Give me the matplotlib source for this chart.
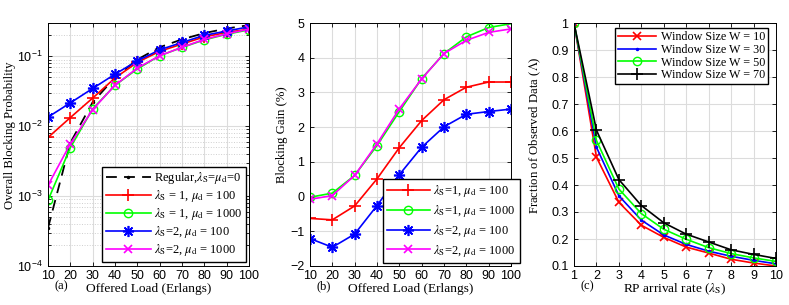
import numpy as np
import matplotlib
matplotlib.use('Agg')
import matplotlib.pyplot as plt
from matplotlib.ticker import NullFormatter, LogLocator

plt.rcParams['font.family'] = ['Liberation Sans', 'DejaVu Sans']
plt.rcParams['mathtext.fontset'] = 'stix'
plt.rcParams['xtick.direction'] = 'in'
plt.rcParams['ytick.direction'] = 'in'
plt.rcParams['xtick.top'] = True
plt.rcParams['ytick.right'] = True

SERIF = 'Liberation Serif'

# ---- data: panel (a) overall blocking probability
load = [10, 20, 30, 40, 50, 60, 70, 80, 90, 100]
pb_regular = [0.00035, 0.0058, 0.022, 0.050, 0.090, 0.135, 0.175, 0.215, 0.250, 0.280]
pb_l1_m100 = [0.0069, 0.0133, 0.0253, 0.049, 0.082, 0.118, 0.150, 0.190, 0.220, 0.245]
pb_l1_m1000 = [0.00087, 0.00495, 0.0177, 0.0385, 0.066, 0.102, 0.134, 0.172, 0.207, 0.240]
pb_l2_m100 = [0.0135, 0.0216, 0.0347, 0.0556, 0.086, 0.124, 0.158, 0.200, 0.230, 0.265]
pb_l2_m1000 = [0.00143, 0.0056, 0.0173, 0.0385, 0.068, 0.102, 0.135, 0.175, 0.210, 0.245]

# ---- data: panel (b) blocking gain (%)
gain_l1_m100 = [-0.63, -0.67, -0.27, 0.51, 1.41, 2.19, 2.79, 3.15, 3.30, 3.30]
gain_l1_m1000 = [-0.02, 0.10, 0.61, 1.47, 2.45, 3.40, 4.12, 4.60, 4.87, 4.98]
gain_l2_m100 = [-1.21, -1.46, -1.08, -0.26, 0.63, 1.42, 2.01, 2.37, 2.45, 2.52]
gain_l2_m1000 = [-0.08, 0.03, 0.61, 1.52, 2.53, 3.39, 4.12, 4.50, 4.73, 4.83]

# ---- data: panel (c) fraction of observed data
rate = [1, 2, 3, 4, 5, 6, 7, 8, 9, 10]
frac_w10 = [1.0, 0.503, 0.336, 0.251, 0.206, 0.170, 0.148, 0.125, 0.111, 0.100]
frac_w30 = [1.0, 0.540, 0.360, 0.270, 0.215, 0.180, 0.155, 0.136, 0.121, 0.108]
frac_w50 = [1.0, 0.565, 0.385, 0.294, 0.236, 0.199, 0.168, 0.146, 0.130, 0.117]
frac_w70 = [1.0, 0.603, 0.420, 0.324, 0.260, 0.218, 0.189, 0.160, 0.143, 0.128]

gain_ticks = [-2, -1, 0, 1, 2, 3, 4, 5]
frac_ticks = [0.1, 0.2, 0.3, 0.4, 0.5, 0.6, 0.7, 0.8, 0.9, 1.0]
frac_ticklabels = ['0.1', '0.2', '0.3', '0.4', '0.5', '0.6', '0.7', '0.8', '0.9', '1']

fig = plt.figure(figsize=(7.89, 3.05), dpi=100)
W, H = 789, 305
def box(x0, x1, ytop, ybot):
    return [x0 / W, 1 - ybot / H, (x1 - x0) / W, (ybot - ytop) / H]

ax1 = fig.add_axes(box(48, 249, 23, 266))
ax2 = fig.add_axes(box(310, 511, 23, 266))
ax3 = fig.add_axes(box(574, 776, 23, 266))

lw = 1.2
ms = 6
leg_kw = dict(fancybox=False, edgecolor='black', framealpha=1, borderaxespad=0)

# ---- panel (a)
ax1.plot(load, pb_regular, 'k--', marker='.', ms=3, lw=1.3, dashes=(6, 4),
         label=r'Regular,$\lambda_{\rm S}$=$\mu_{\rm d}$=0')
ax1.plot(load, pb_l1_m100, color='red', marker='+', ms=8, lw=lw, mew=1.2,
         label=r'$\lambda_{\rm S}$ = 1, $\mu_{\rm d}$ = 100')
ax1.plot(load, pb_l1_m1000, color='#00ff00', marker='o', ms=ms, mfc='none', lw=lw,
         label=r'$\lambda_{\rm S}$ = 1, $\mu_{\rm d}$ = 1000')
ax1.plot(load, pb_l2_m100, color='blue', marker=(8, 2, 0), ms=8, lw=lw, mew=1.2,
         label=r'$\lambda_{\rm S}$=2, $\mu_{\rm d}$ = 100')
ax1.plot(load, pb_l2_m1000, color='magenta', marker='x', ms=6, lw=lw, mew=1.2,
         label=r'$\lambda_{\rm S}$=2, $\mu_{\rm d}$ = 1000')
ax1.set_yscale('log')
ax1.set_ylim(1e-4, 0.3)
ax1.set_xlim(10, 100)
ax1.set_xticks(load)
ax1.yaxis.set_major_locator(LogLocator(base=10, numticks=10))
ax1.yaxis.set_minor_locator(LogLocator(base=10, subs=np.arange(2, 10), numticks=20))
ax1.yaxis.set_minor_formatter(NullFormatter())
ax1.grid(True, which='major', color='#dcdcdc', lw=0.8)
ax1.grid(True, which='minor', axis='y', color='#cfcfcf', lw=0.7, ls=':')
ax1.set_ylabel('Overall Blocking Probability')
ax1.legend(loc='lower right', bbox_to_anchor=(0.985, 0.016), prop={'family': SERIF, 'size': 9},
           handlelength=3.6, handletextpad=0.25, labelspacing=0.16, borderpad=0.3, **leg_kw)

# ---- panel (b)
ax2.plot(load, gain_l1_m100, color='red', marker='+', ms=8, lw=lw, mew=1.2,
         label=r'$\lambda_{\rm S}$=1, $\mu_{\rm d}$ = 100')
ax2.plot(load, gain_l1_m1000, color='#00ff00', marker='o', ms=ms, mfc='none', lw=lw,
         label=r'$\lambda_{\rm S}$=1, $\mu_{\rm d}$ = 1000')
ax2.plot(load, gain_l2_m100, color='blue', marker=(8, 2, 0), ms=8, lw=lw, mew=1.2,
         label=r'$\lambda_{\rm S}$=2, $\mu_{\rm d}$ = 100')
ax2.plot(load, gain_l2_m1000, color='magenta', marker='x', ms=6, lw=lw, mew=1.2,
         label=r'$\lambda_{\rm S}$=2, $\mu_{\rm d}$ = 1000')
ax2.set_xlim(10, 100)
ax2.set_ylim(-2, 5)
ax2.set_xticks(load)
ax2.set_yticks(gain_ticks)
ax2.grid(True, color='#dcdcdc', lw=0.8)
ax2.set_ylabel('Blocking Gain (%)')
ax2.legend(loc='lower right', bbox_to_anchor=(1.045, 0.012), prop={'family': SERIF, 'size': 9},
           handlelength=3.4, handletextpad=0.3, labelspacing=0.3, borderpad=0.35, **leg_kw)

# ---- panel (c)
ax3.plot(rate, frac_w10, color='red', marker='x', ms=6, lw=lw, mew=1.2, label='Window Size W = 10')
ax3.plot(rate, frac_w30, color='blue', marker='.', ms=3, lw=lw, label='Window Size W = 30')
ax3.plot(rate, frac_w50, color='#00ff00', marker='o', ms=ms, mfc='none', lw=lw, label='Window Size W = 50')
ax3.plot(rate, frac_w70, color='black', marker='+', ms=8, lw=lw, mew=1.2, label='Window Size W = 70')
ax3.set_xlim(1, 10)
ax3.set_ylim(0.1, 1)
ax3.set_xticks(rate)
ax3.set_yticks(frac_ticks)
ax3.set_yticklabels(frac_ticklabels)
ax3.grid(True, color='#dcdcdc', lw=0.8)
ax3.set_ylabel(r'Fraction of Observed Data ($\Lambda$)')
ax3.legend(loc='upper right', bbox_to_anchor=(0.96, 0.979), prop={'family': SERIF, 'size': 8.7},
           handlelength=3.2, handletextpad=0.35, labelspacing=0.06, borderpad=0.25, **leg_kw)

for ax in (ax1, ax2, ax3):
    ax.tick_params(labelsize=9, length=3, width=0.6)
    ax.tick_params(axis='x', pad=3)
    ax.tick_params(axis='y', pad=4)
    ax.set_axisbelow(True)
    for s in ax.spines.values():
        s.set_linewidth(0.7)

xlabels = ['Offered Load (Erlangs)', 'Offered Load (Erlangs)', r'RP arrival rate ($\lambda_{\rm S}$)']
ylabel_x = [-0.19, -0.138, -0.193]
tags = ['(a)', '(b)', '(c)']
for ax, xl, yx, tag in zip((ax1, ax2, ax3), xlabels, ylabel_x, tags):
    ax.set_xlabel(xl, fontfamily=SERIF, fontsize=9.6)
    ax.xaxis.set_label_coords(0.5, -0.095)
    ax.xaxis.label.set_va('center')
    ax.yaxis.label.set_fontfamily(SERIF)
    ax.yaxis.label.set_fontsize(9.2)
    ax.yaxis.set_label_coords(yx, 0.54)
    ax.yaxis.label.set_va('center')
    ax.text(0.03, -0.083, tag, transform=ax.transAxes, fontfamily=SERIF, fontsize=9,
            ha='left', va='center')

fig.savefig('out.png', dpi=100)
